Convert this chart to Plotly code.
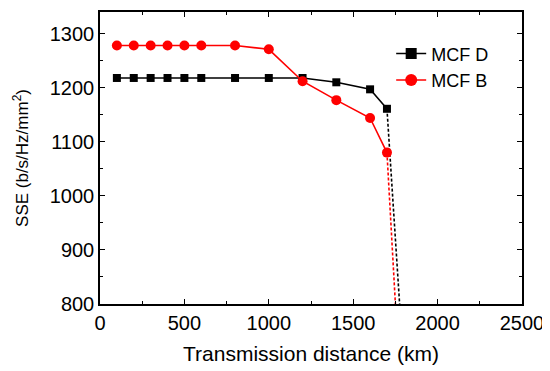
import plotly.graph_objects as go

distance = [100, 200, 300, 400, 500, 600, 800, 1000, 1200, 1400, 1600, 1700]
sse_mcf_d = [1218, 1218, 1218, 1218, 1218, 1218, 1218, 1218, 1218, 1210, 1197, 1161]
sse_mcf_b = [1278, 1278, 1278, 1278, 1278, 1278, 1278, 1271, 1212, 1177, 1144, 1080]

extrap_d_x = [1700, 1775]
extrap_d_y = [1161, 800]
extrap_b_x = [1700, 1750]
extrap_b_y = [1080, 800]

x_ticks = [0, 500, 1000, 1500, 2000, 2500]
y_ticks = [800, 900, 1000, 1100, 1200, 1300]

FONT = "Liberation Sans, Arial, sans-serif"

fig = go.Figure()
fig.add_trace(go.Scatter(x=extrap_d_x, y=extrap_d_y, mode="lines",
                         line=dict(color="black", width=1.6, dash="3px,2px"),
                         showlegend=False, hoverinfo="skip"))
fig.add_trace(go.Scatter(x=extrap_b_x, y=extrap_b_y, mode="lines",
                         line=dict(color="#ff0000", width=1.6, dash="3px,2px"),
                         showlegend=False, hoverinfo="skip"))
fig.add_trace(go.Scatter(x=distance, y=sse_mcf_d, mode="lines+markers", name="MCF D",
                         line=dict(color="black", width=1.6),
                         marker=dict(symbol="square", size=8, color="black"),
                         showlegend=False))
fig.add_trace(go.Scatter(x=distance, y=sse_mcf_b, mode="lines+markers", name="MCF B",
                         line=dict(color="#ff0000", width=1.6),
                         marker=dict(symbol="circle", size=10, color="#ff0000"),
                         showlegend=False))
# legend entries (larger symbols as in the reference legend)
fig.add_trace(go.Scatter(x=[None], y=[None], mode="lines+markers", name="MCF D",
                         line=dict(color="black", width=1.6),
                         marker=dict(symbol="square", size=11, color="black")))
fig.add_trace(go.Scatter(x=[None], y=[None], mode="lines+markers", name="MCF B",
                         line=dict(color="#ff0000", width=1.6),
                         marker=dict(symbol="circle", size=12, color="#ff0000")))

axis_common = dict(showline=True, linecolor="black", linewidth=1.5, mirror="ticks",
                   ticks="inside", ticklen=5, tickwidth=1.2, tickcolor="black",
                   showgrid=False, zeroline=False, automargin=False,
                   tickfont=dict(family=FONT, size=20, color="black"))

fig.update_layout(
    width=542, height=363,
    margin=dict(l=92, r=28, t=4, b=67),
    paper_bgcolor="white", plot_bgcolor="white",
    font=dict(family=FONT, color="black"),
    xaxis=dict(range=[0, 2500], tickvals=x_ticks,
               minor=dict(ticks="inside", ticklen=3, dtick=250, tickcolor="black"),
               title=dict(text="Transmission distance (km)",
                          font=dict(family=FONT, size=21), standoff=14),
               **axis_common),
    yaxis=dict(range=[800, 1340], tickvals=y_ticks,
               minor=dict(ticks="inside", ticklen=3, dtick=50, tickcolor="black"),
               title=dict(text="SSE (b/s/Hz/mm<sup>2</sup>)",
                          font=dict(family=FONT, size=17), standoff=17),
               **axis_common),
    legend=dict(x=0.69, y=0.92, xanchor="left", yanchor="top",
                bgcolor="rgba(0,0,0,0)", font=dict(family=FONT, size=18),
                tracegroupgap=0),
    showlegend=True,
)

fig.write_html("out.html")
